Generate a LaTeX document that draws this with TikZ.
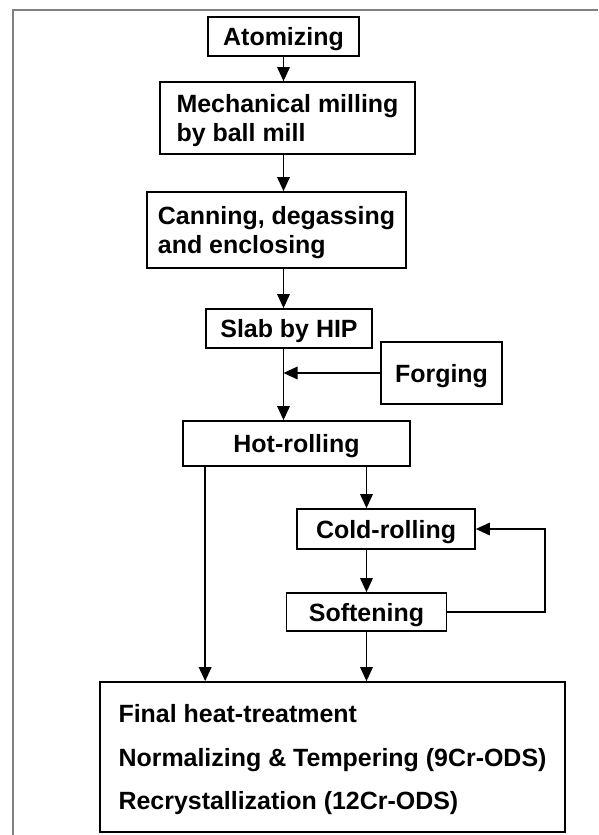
\documentclass[tikz,border=0pt]{standalone}
\usepackage{fontspec}
\setmainfont{Liberation Sans}
\usetikzlibrary{arrows.meta}

\begin{document}
\begin{tikzpicture}[>={Triangle[length=0.56cm,width=0.5cm]}, line width=1.9pt,
        box/.style={draw, inner sep=0pt, align=left, text depth=0pt,
            font=\bfseries\fontsize{28.4pt}{33pt}\selectfont}]
    \useasboundingbox (0,0) rectangle (23.92,33.4);
    % frame, cut at right and bottom
    \draw[gray, line width=2pt] (0.52,0) % bottom left
        -- (0.52,33.0) % top left
        -- (23.92,33.0); % top right
    \node[box, minimum width=6.04cm, minimum height=1.56cm] (atom) at (11.34,31.94) {Atomizing};
    \node[box, minimum width=10.2cm, minimum height=2.88cm] (mill) at (11.5,28.68) {Mechanical milling\\by ball mill};
    \node[box, minimum width=10.36cm, minimum height=3.04cm] (can) at (11.06,24.2) {Canning, degassing\\and enclosing};
    \node[box, minimum width=6.64cm, minimum height=1.56cm] (slab) at (11.56,20.26) {Slab by HIP};
    \node[box, minimum width=4.84cm, minimum height=2.48cm] (forg) at (17.66,18.48) {Forging};
    \node[box, minimum width=9.08cm, minimum height=1.8cm] (hot) at (11.86,15.66) {Hot-rolling};
    \node[box, minimum width=7.12cm, minimum height=1.6cm] (cold) at (15.44,12.24) {Cold-rolling};
    \node[box, minimum width=6.4cm, minimum height=1.52cm] (soft) at (14.66,8.92) {Softening};
    \node[box, minimum width=18.6cm, minimum height=6cm,
        font=\bfseries\fontsize{28.4pt}{50pt}\selectfont] (final) at (13.3,3.12)
        {Final heat-treatment\\Normalizing \& Tempering (9Cr-ODS)\\Recrystallization (12Cr-ODS)};
    \coordinate (loop) at (21.8,12.24);
    % main line
    \draw[->] (atom.south) -- (atom.south |- mill.north);
    \draw[->] (mill.south -| atom) -- (can.north -| atom);
    \draw[->] (can.south -| atom) -- (slab.north -| atom);
    \draw[->] (slab.south -| atom) -- (hot.north -| atom);
    \draw[->] (forg.west) -- (forg.west -| atom);
    % rolling
    \draw[->] (hot.south -| slab.west) -- (final.north -| slab.west);
    \draw[->] (hot.south -| soft) -- (cold.north -| soft);
    \draw[->] (cold.south -| soft) -- (soft.north);
    \draw[->] (soft.south) -- (final.north -| soft);
    \draw[->] (soft.east) -| (loop) -- (cold.east);
\end{tikzpicture}
\end{document}
